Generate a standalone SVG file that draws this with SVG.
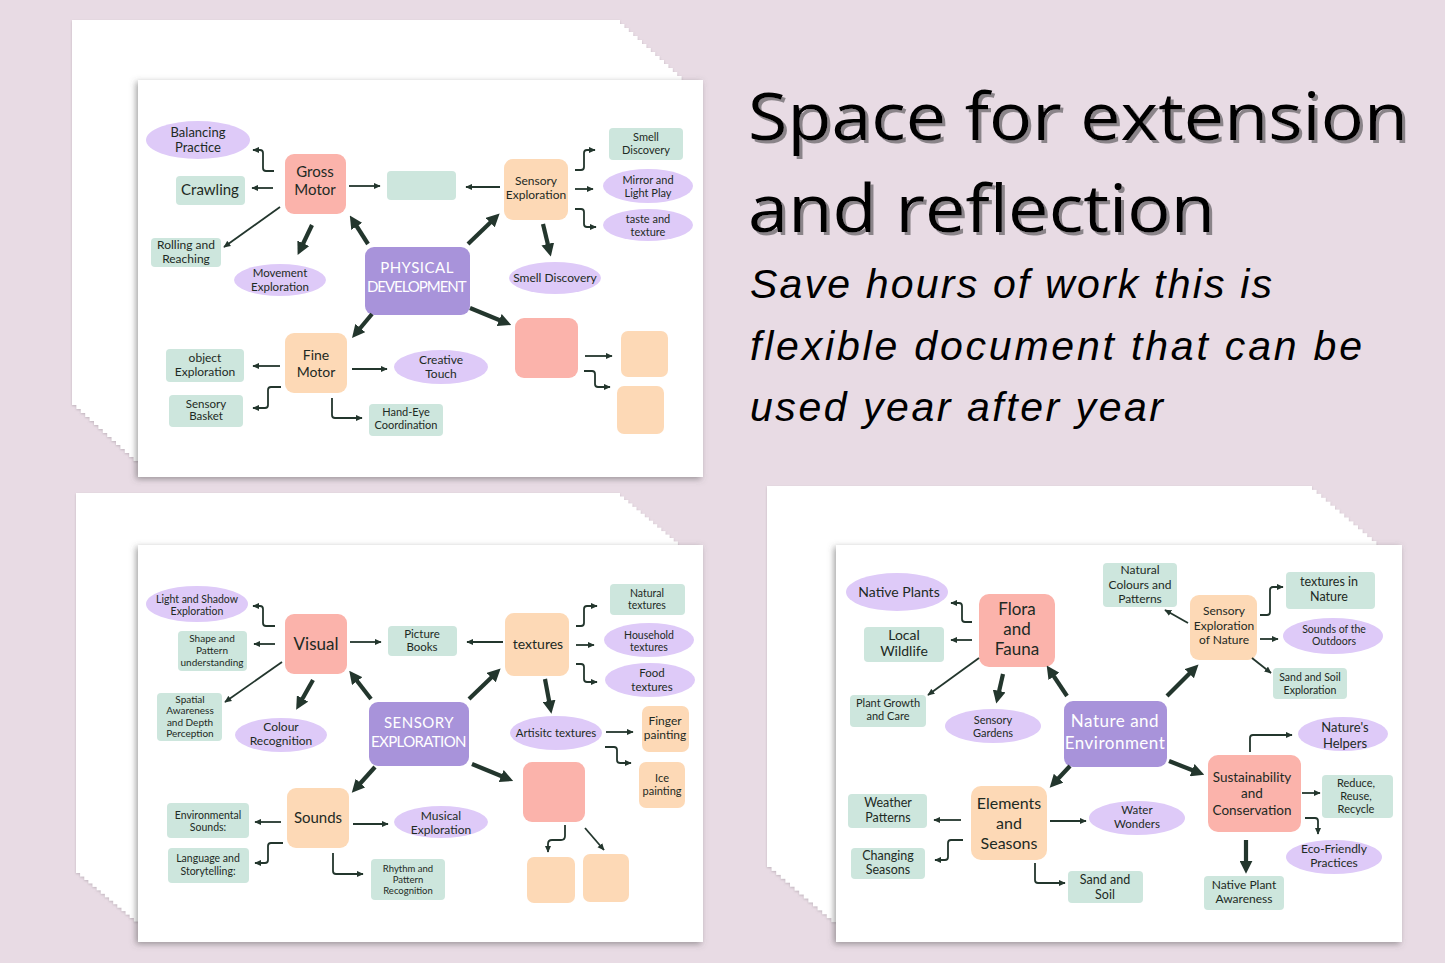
<svg xmlns="http://www.w3.org/2000/svg" width="1445" height="963" viewBox="0 0 1445 963">
<defs>
<style>
.sh{fill:#fff}
.stk{filter:url(#ss)}
.card{fill:#fff;filter:url(#cs)}
.pu{fill:#A893DA}
.sa{fill:#FBB3AB}
.pe{fill:#FDD9B6}
.mi{fill:#CDE6DD}
.la{fill:#DECAF8}
text{font-family:Lato,"Open Sans",sans-serif;fill:#1d2a24;text-anchor:middle}
.w{fill:#fff;letter-spacing:0.5px}
.t{fill:none;stroke:#23362D;stroke-width:1.8;marker-end:url(#a)}
.k{fill:none;stroke:#23362D;stroke-width:4.2;marker-end:url(#b)}
.h1{text-anchor:start;font-family:"Open Sans",Lato,sans-serif;font-weight:500;fill:#000;filter:url(#ts)}
.h2{text-anchor:start;font-family:"Liberation Sans",Arial,sans-serif;font-style:italic;font-weight:400;fill:#000}
</style>
<filter id="cs" x="-5%" y="-5%" width="110%" height="112%"><feDropShadow dx="-2" dy="2" stdDeviation="3" flood-color="#555" flood-opacity="0.55"/></filter>
<filter id="ss" x="-5%" y="-5%" width="110%" height="112%"><feDropShadow dx="0" dy="1" stdDeviation="1.2" flood-color="#9a8f97" flood-opacity="0.5"/></filter>
<filter id="ts" x="-2%" y="-10%" width="104%" height="130%"><feDropShadow dx="3" dy="3" stdDeviation="0.4" flood-color="#8a8489" flood-opacity="1"/></filter>
<marker id="a" viewBox="0 0 10 10" refX="9" refY="5" markerWidth="7" markerHeight="7" markerUnits="userSpaceOnUse" orient="auto"><path d="M0,0.5 L10,5 L0,9.5z" fill="#23362D"/></marker>
<marker id="b" viewBox="0 0 10 10" refX="4" refY="5" markerWidth="13" markerHeight="13" markerUnits="userSpaceOnUse" orient="auto"><path d="M0,0 L10,5 L0,10z" fill="#23362D"/></marker>
</defs>
<rect width="1445" height="963" fill="#E8DBE4"/>

<!-- title -->
<g id="title">
<text class="h1" x="748" y="140" font-size="66" textLength="660" lengthAdjust="spacingAndGlyphs">Space for extension</text>
<text class="h1" x="748" y="232" font-size="66" textLength="467" lengthAdjust="spacingAndGlyphs">and reflection</text>
<text class="h2" x="750" y="298" font-size="41" textLength="522">Save hours of work this is</text>
<text class="h2" x="750" y="360" font-size="41" textLength="612">flexible document that can be</text>
<text class="h2" x="750" y="421" font-size="41" textLength="413">used year after year</text>
</g>

<!-- stacks -->
<g id="stack1">
<g class="stk">
<rect class="sh" x="72" y="20" width="548" height="385"/>
<rect class="sh" x="76.4" y="24" width="548" height="385"/>
<rect class="sh" x="80.8" y="28" width="548" height="385"/>
<rect class="sh" x="85.2" y="32" width="548" height="385"/>
<rect class="sh" x="89.6" y="36" width="548" height="385"/>
<rect class="sh" x="94" y="40" width="548" height="385"/>
<rect class="sh" x="98.4" y="44" width="548" height="385"/>
<rect class="sh" x="102.8" y="48" width="548" height="385"/>
<rect class="sh" x="107.2" y="52" width="548" height="385"/>
<rect class="sh" x="111.6" y="56" width="548" height="385"/>
<rect class="sh" x="116" y="60" width="548" height="385"/>
<rect class="sh" x="120.4" y="64" width="548" height="385"/>
<rect class="sh" x="124.8" y="68" width="548" height="385"/>
<rect class="sh" x="129.2" y="72" width="548" height="385"/>
<rect class="sh" x="133.6" y="76" width="548" height="385"/>
</g>
<rect class="card" x="138" y="80" width="565" height="397"/>
</g>
<g id="stack2">
<g class="stk">
<rect class="sh" x="76" y="493" width="544" height="380"/>
<rect class="sh" x="80.1" y="496.5" width="544" height="380"/>
<rect class="sh" x="84.3" y="500" width="544" height="380"/>
<rect class="sh" x="88.4" y="503.4" width="544" height="380"/>
<rect class="sh" x="92.5" y="506.9" width="544" height="380"/>
<rect class="sh" x="96.7" y="510.3" width="544" height="380"/>
<rect class="sh" x="100.8" y="513.8" width="544" height="380"/>
<rect class="sh" x="104.9" y="517.3" width="544" height="380"/>
<rect class="sh" x="109.1" y="520.7" width="544" height="380"/>
<rect class="sh" x="113.2" y="524.2" width="544" height="380"/>
<rect class="sh" x="117.3" y="527.7" width="544" height="380"/>
<rect class="sh" x="121.5" y="531.1" width="544" height="380"/>
<rect class="sh" x="125.6" y="534.6" width="544" height="380"/>
<rect class="sh" x="129.7" y="538" width="544" height="380"/>
<rect class="sh" x="133.9" y="541.5" width="544" height="380"/>
</g>
<rect class="card" x="138" y="545" width="565" height="397"/>
</g>
<g id="stack3">
<g class="stk">
<rect class="sh" x="767" y="486" width="545" height="381"/>
<rect class="sh" x="771.6" y="489.9" width="545" height="381"/>
<rect class="sh" x="776.2" y="493.9" width="545" height="381"/>
<rect class="sh" x="780.8" y="497.8" width="545" height="381"/>
<rect class="sh" x="785.4" y="501.7" width="545" height="381"/>
<rect class="sh" x="790" y="505.7" width="545" height="381"/>
<rect class="sh" x="794.6" y="509.6" width="545" height="381"/>
<rect class="sh" x="799.2" y="513.5" width="545" height="381"/>
<rect class="sh" x="803.8" y="517.5" width="545" height="381"/>
<rect class="sh" x="808.4" y="521.4" width="545" height="381"/>
<rect class="sh" x="813" y="525.3" width="545" height="381"/>
<rect class="sh" x="817.6" y="529.3" width="545" height="381"/>
<rect class="sh" x="822.2" y="533.2" width="545" height="381"/>
<rect class="sh" x="826.8" y="537.1" width="545" height="381"/>
<rect class="sh" x="831.4" y="541.1" width="545" height="381"/>
</g>
<rect class="card" x="836" y="545" width="566" height="397"/>
</g>

<!-- ===== Card 1 ===== -->
<g id="c1-balancing"><ellipse class="la" cx="198" cy="140" rx="52" ry="19"/><text font-size="13"><tspan x="198" y="137">Balancing</tspan><tspan x="198" y="152">Practice</tspan></text></g>
<g id="c1-crawling"><rect class="mi" x="176" y="176" width="69" height="29" rx="4"/><text x="210" y="195" font-size="15">Crawling</text></g>
<g id="c1-gross"><rect class="sa" x="285" y="154" width="61" height="60" rx="9"/><text font-size="15"><tspan x="315" y="177">Gross</tspan><tspan x="315" y="195">Motor</tspan></text></g>
<g id="c1-rolling"><rect class="mi" x="151" y="238" width="70" height="29" rx="4"/><text font-size="12"><tspan x="186" y="249">Rolling and</tspan><tspan x="186" y="263">Reaching</tspan></text></g>
<g id="c1-movement"><ellipse class="la" cx="280" cy="280" rx="46" ry="16"/><text font-size="11.5"><tspan x="280" y="277">Movement</tspan><tspan x="280" y="291">Exploration</tspan></text></g>
<g id="c1-physical"><rect class="pu" x="365" y="247" width="105" height="68" rx="9"/><text class="w" font-size="15"><tspan x="417" y="273">PHYSICAL</tspan><tspan x="417" y="292" textLength="100">DEVELOPMENT</tspan></text></g>
<g id="c1-fine"><rect class="pe" x="285" y="333" width="62" height="60" rx="9"/><text font-size="14"><tspan x="316" y="360">Fine</tspan><tspan x="316" y="377">Motor</tspan></text></g>
<g id="c1-object"><rect class="mi" x="166" y="349" width="78" height="33" rx="4"/><text font-size="12"><tspan x="205" y="362">object</tspan><tspan x="205" y="376">Exploration</tspan></text></g>
<g id="c1-basket"><rect class="mi" x="169" y="395" width="74" height="32" rx="4"/><text font-size="11.5"><tspan x="206" y="408">Sensory</tspan><tspan x="206" y="420">Basket</tspan></text></g>
<g id="c1-handeye"><rect class="mi" x="369" y="404" width="74" height="32" rx="4"/><text font-size="11"><tspan x="406" y="416">Hand-Eye</tspan><tspan x="406" y="429">Coordination</tspan></text></g>
<g id="c1-creative"><ellipse class="la" cx="441" cy="367" rx="47" ry="17"/><text font-size="12"><tspan x="441" y="364">Creative</tspan><tspan x="441" y="378">Touch</tspan></text></g>
<g id="c1-blank-mint"><rect class="mi" x="387" y="171" width="69" height="29" rx="4"/></g>
<g id="c1-sensory"><rect class="pe" x="504" y="159" width="64" height="61" rx="9"/><text font-size="12"><tspan x="536" y="185">Sensory</tspan><tspan x="536" y="199">Exploration</tspan></text></g>
<g id="c1-smell-rect"><rect class="mi" x="609" y="128" width="74" height="32" rx="4"/><text font-size="11"><tspan x="646" y="141">Smell</tspan><tspan x="646" y="154">Discovery</tspan></text></g>
<g id="c1-mirror"><ellipse class="la" cx="648" cy="186" rx="45" ry="17"/><text font-size="11"><tspan x="648" y="184">Mirror and</tspan><tspan x="648" y="197">Light Play</tspan></text></g>
<g id="c1-taste"><ellipse class="la" cx="648" cy="225" rx="45" ry="16"/><text font-size="11"><tspan x="648" y="223">taste and</tspan><tspan x="648" y="236">texture</tspan></text></g>
<g id="c1-smell-ell"><ellipse class="la" cx="555" cy="278" rx="46" ry="16"/><text x="555" y="282" font-size="12">Smell Discovery</text></g>
<g id="c1-blank-salmon"><rect class="sa" x="515" y="318" width="63" height="60" rx="9"/></g>
<g id="c1-blank-peach1"><rect class="pe" x="621" y="331" width="47" height="46" rx="7"/></g>
<g id="c1-blank-peach2"><rect class="pe" x="617" y="386" width="47" height="48" rx="7"/></g>

<!-- ===== Card 2 ===== -->
<g id="c2-light"><ellipse class="la" cx="197" cy="604" rx="51" ry="18"/><text font-size="10.5"><tspan x="197" y="603">Light and Shadow</tspan><tspan x="197" y="615">Exploration</tspan></text></g>
<g id="c2-shape"><rect class="mi" x="178" y="631" width="69" height="40" rx="4"/><text font-size="10"><tspan x="212" y="642">Shape and</tspan><tspan x="212" y="654">Pattern</tspan><tspan x="212" y="666">understanding</tspan></text></g>
<g id="c2-visual"><rect class="sa" x="285" y="614" width="62" height="60" rx="9"/><text x="316" y="650" font-size="17">Visual</text></g>
<g id="c2-picture"><rect class="mi" x="388" y="626" width="69" height="30" rx="4"/><text font-size="11.5"><tspan x="422" y="638">Picture</tspan><tspan x="422" y="651">Books</tspan></text></g>
<g id="c2-spatial"><rect class="mi" x="157" y="693" width="65" height="48" rx="4"/><text font-size="10"><tspan x="190" y="703">Spatial</tspan><tspan x="190" y="714">Awareness</tspan><tspan x="190" y="726">and Depth</tspan><tspan x="190" y="737">Perception</tspan></text></g>
<g id="c2-colour"><ellipse class="la" cx="281" cy="735" rx="46" ry="17"/><text font-size="12"><tspan x="281" y="731">Colour</tspan><tspan x="281" y="745">Recognition</tspan></text></g>
<g id="c2-sensory"><rect class="pu" x="369" y="702" width="100" height="64" rx="9"/><text class="w" font-size="15"><tspan x="419" y="728">SENSORY</tspan><tspan x="419" y="747" textLength="96">EXPLORATION</tspan></text></g>
<g id="c2-sounds"><rect class="pe" x="287" y="788" width="62" height="60" rx="9"/><text x="318" y="823" font-size="15">Sounds</text></g>
<g id="c2-env"><rect class="mi" x="167" y="803" width="82" height="35" rx="4"/><text font-size="10.5"><tspan x="208" y="819">Environmental</tspan><tspan x="208" y="831">Sounds:</tspan></text></g>
<g id="c2-lang"><rect class="mi" x="168" y="848" width="81" height="35" rx="4"/><text font-size="10.5"><tspan x="208" y="862">Language and</tspan><tspan x="208" y="875">Storytelling:</tspan></text></g>
<g id="c2-musical"><ellipse class="la" cx="441" cy="822" rx="47" ry="16"/><text font-size="12"><tspan x="441" y="820">Musical</tspan><tspan x="441" y="834">Exploration</tspan></text></g>
<g id="c2-rhythm"><rect class="mi" x="371" y="859" width="74" height="41" rx="4"/><text font-size="9.5"><tspan x="408" y="872">Rhythm and</tspan><tspan x="408" y="883">Pattern</tspan><tspan x="408" y="894">Recognition</tspan></text></g>
<g id="c2-textures"><rect class="pe" x="505" y="613" width="64" height="63" rx="9"/><text x="538" y="649" font-size="14">textures</text></g>
<g id="c2-natural"><rect class="mi" x="610" y="584" width="75" height="31" rx="4"/><text font-size="10.5"><tspan x="647" y="597">Natural</tspan><tspan x="647" y="609">textures</tspan></text></g>
<g id="c2-household"><ellipse class="la" cx="649" cy="640" rx="45" ry="17"/><text font-size="10.5"><tspan x="649" y="639">Household</tspan><tspan x="649" y="651">textures</tspan></text></g>
<g id="c2-food"><ellipse class="la" cx="650" cy="680" rx="45" ry="17"/><text font-size="11.5"><tspan x="652" y="677">Food</tspan><tspan x="652" y="691">textures</tspan></text></g>
<g id="c2-artisitc"><ellipse class="la" cx="556" cy="733" rx="46" ry="17"/><text x="556" y="737" font-size="11.5">Artisitc textures</text></g>
<g id="c2-finger"><rect class="pe" x="642" y="706" width="47" height="46" rx="7"/><text font-size="12"><tspan x="665" y="725">Finger</tspan><tspan x="665" y="739">painting</tspan></text></g>
<g id="c2-ice"><rect class="pe" x="639" y="762" width="46" height="46" rx="7"/><text font-size="11"><tspan x="662" y="782">Ice</tspan><tspan x="662" y="795">painting</tspan></text></g>
<g id="c2-blank-salmon"><rect class="sa" x="523" y="762" width="62" height="60" rx="9"/></g>
<g id="c2-blank-peach1"><rect class="pe" x="527" y="857" width="48" height="46" rx="7"/></g>
<g id="c2-blank-peach2"><rect class="pe" x="583" y="854" width="46" height="48" rx="7"/></g>

<!-- ===== Card 3 ===== -->
<g id="c3-native"><ellipse class="la" cx="897" cy="592" rx="51" ry="19"/><text x="899" y="597" font-size="14">Native Plants</text></g>
<g id="c3-local"><rect class="mi" x="864" y="627" width="80" height="35" rx="4"/><text font-size="14"><tspan x="904" y="640">Local</tspan><tspan x="904" y="656">Wildlife</tspan></text></g>
<g id="c3-flora"><rect class="sa" x="979" y="594" width="76" height="73" rx="10"/><text font-size="17"><tspan x="1017" y="615">Flora</tspan><tspan x="1017" y="635">and</tspan><tspan x="1017" y="655">Fauna</tspan></text></g>
<g id="c3-plant"><rect class="mi" x="850" y="695" width="76" height="32" rx="4"/><text font-size="11"><tspan x="888" y="707">Plant Growth</tspan><tspan x="888" y="720">and Care</tspan></text></g>
<g id="c3-gardens"><ellipse class="la" cx="993" cy="726" rx="48" ry="17"/><text font-size="11"><tspan x="993" y="724">Sensory</tspan><tspan x="993" y="737">Gardens</tspan></text></g>
<g id="c3-nature"><rect class="pu" x="1064" y="701" width="103" height="66" rx="9"/><text class="w" font-size="17" letter-spacing="0"><tspan x="1115" y="727">Nature and</tspan><tspan x="1115" y="749">Environment</tspan></text></g>
<g id="c3-elements"><rect class="pe" x="971" y="786" width="76" height="74" rx="10"/><text font-size="16"><tspan x="1009" y="809">Elements</tspan><tspan x="1009" y="829">and</tspan><tspan x="1009" y="849">Seasons</tspan></text></g>
<g id="c3-weather"><rect class="mi" x="848" y="794" width="79" height="34" rx="4"/><text font-size="12.5"><tspan x="888" y="807">Weather</tspan><tspan x="888" y="822">Patterns</tspan></text></g>
<g id="c3-changing"><rect class="mi" x="851" y="848" width="74" height="31" rx="4"/><text font-size="12.5"><tspan x="888" y="860">Changing</tspan><tspan x="888" y="874">Seasons</tspan></text></g>
<g id="c3-water"><ellipse class="la" cx="1137" cy="818" rx="48" ry="17"/><text font-size="11.5"><tspan x="1137" y="814">Water</tspan><tspan x="1137" y="828">Wonders</tspan></text></g>
<g id="c3-sand"><rect class="mi" x="1068" y="871" width="75" height="32" rx="4"/><text font-size="12.5"><tspan x="1105" y="884">Sand and</tspan><tspan x="1105" y="899">Soil</tspan></text></g>
<g id="c3-colours"><rect class="mi" x="1103" y="563" width="74" height="44" rx="4"/><text font-size="12"><tspan x="1140" y="574">Natural</tspan><tspan x="1140" y="589">Colours and</tspan><tspan x="1140" y="603">Patterns</tspan></text></g>
<g id="c3-sensnat"><rect class="pe" x="1190" y="595" width="67" height="65" rx="9"/><text font-size="12"><tspan x="1224" y="615">Sensory</tspan><tspan x="1224" y="630">Exploration</tspan><tspan x="1224" y="644">of Nature</tspan></text></g>
<g id="c3-texnat"><rect class="mi" x="1286" y="572" width="89" height="37" rx="4"/><text font-size="12.5"><tspan x="1329" y="586">textures in</tspan><tspan x="1329" y="601">Nature</tspan></text></g>
<g id="c3-outdoors"><ellipse class="la" cx="1333" cy="636" rx="50" ry="18"/><text font-size="10.5"><tspan x="1334" y="633">Sounds of the</tspan><tspan x="1334" y="645">Outdoors</tspan></text></g>
<g id="c3-sandexp"><rect class="mi" x="1273" y="668" width="74" height="31" rx="4"/><text font-size="10.5"><tspan x="1310" y="681">Sand and Soil</tspan><tspan x="1310" y="694">Exploration</tspan></text></g>
<g id="c3-helpers"><ellipse class="la" cx="1343" cy="734" rx="45" ry="17"/><text font-size="13"><tspan x="1345" y="732">Nature's</tspan><tspan x="1345" y="748">Helpers</tspan></text></g>
<g id="c3-sustain"><rect class="sa" x="1208" y="755" width="93" height="77" rx="10"/><text font-size="13.5"><tspan x="1252" y="782">Sustainability</tspan><tspan x="1252" y="798">and</tspan><tspan x="1252" y="815">Conservation</tspan></text></g>
<g id="c3-reduce"><rect class="mi" x="1322" y="775" width="71" height="43" rx="4"/><text font-size="11"><tspan x="1356" y="787">Reduce,</tspan><tspan x="1356" y="800">Reuse,</tspan><tspan x="1356" y="813">Recycle</tspan></text></g>
<g id="c3-eco"><ellipse class="la" cx="1334" cy="857" rx="48" ry="17"/><text font-size="12"><tspan x="1334" y="853">Eco-Friendly</tspan><tspan x="1334" y="867">Practices</tspan></text></g>
<g id="c3-npa"><rect class="mi" x="1204" y="876" width="80" height="34" rx="4"/><text font-size="12"><tspan x="1244" y="889">Native Plant</tspan><tspan x="1244" y="903">Awareness</tspan></text></g>

<!-- connectors -->
<g id="connectors">
<path class="t" d="M274,171 H266 Q263,171 263,168 V153 Q263,150 260,150 H253"/>
<path class="t" d="M273,188 H252"/>
<path class="t" d="M280,207 L224,247"/>
<path class="k" d="M312,225 L301,248"/>
<path class="k" d="M368,244 L354,222"/>
<path class="t" d="M349,186 H380"/>
<path class="t" d="M500,187 H466"/>
<path class="k" d="M468,244 L494,219"/>
<path class="k" d="M543,224 L549,249"/>
<path class="t" d="M575,170 H581 Q584,170 584,167 V153 Q584,150 587,150 H595"/>
<path class="t" d="M575,189 H593"/>
<path class="t" d="M575,209 H581 Q584,209 584,212 V224 Q584,227 587,227 H596"/>
<path class="k" d="M470,308 L504,322"/>
<path class="k" d="M372,314 L357,332"/>
<path class="t" d="M585,356 H612"/>
<path class="t" d="M584,371 H592 Q595,371 595,374 V384 Q595,387 598,387 H610"/>
<path class="t" d="M280,366 H253"/>
<path class="t" d="M281,387 H271 Q268,387 268,390 V405 Q268,408 265,408 H253"/>
<path class="t" d="M352,369 H387"/>
<path class="t" d="M332,398 V415 Q332,418 335,418 H362"/>

<path class="t" d="M275,626 H266 Q263,626 263,623 V609 Q263,606 260,606 H253"/>
<path class="t" d="M275,644 H254"/>
<path class="t" d="M282,662 L225,702"/>
<path class="k" d="M313,680 L300,703"/>
<path class="k" d="M371,699 L354,677"/>
<path class="t" d="M350,642 H381"/>
<path class="t" d="M503,642 H467"/>
<path class="k" d="M469,699 L495,674"/>
<path class="t" d="M576,626 H581 Q584,626 584,623 V609 Q584,606 587,606 H597"/>
<path class="t" d="M576,645 H594"/>
<path class="t" d="M576,664 H581 Q584,664 584,667 V679 Q584,682 587,682 H597"/>
<path class="k" d="M545,679 L550,706"/>
<path class="t" d="M606,732 H633"/>
<path class="t" d="M605,747 H614 Q617,747 617,750 V760 Q617,763 620,763 H631"/>
<path class="k" d="M472,764 L506,778"/>
<path class="k" d="M375,767 L357,787"/>
<path class="t" d="M565,825 V836 Q565,840 561,840 H552 Q548,840 548,844 V852"/>
<path class="t" d="M585,828 L604,850"/>
<path class="t" d="M281,822 H255"/>
<path class="t" d="M283,843 H271 Q268,843 268,846 V860 Q268,863 265,863 H255"/>
<path class="t" d="M353,824 H388"/>
<path class="t" d="M333,853 V871 Q333,874 336,874 H363"/>

<path class="t" d="M972,622 H965 Q962,622 962,619 V606 Q962,603 959,603 H951"/>
<path class="t" d="M972,640 H951"/>
<path class="t" d="M979,658 L928,695"/>
<path class="k" d="M1003,674 L998,696"/>
<path class="k" d="M1067,696 L1051,672"/>
<path class="k" d="M1070,766 L1055,782"/>
<path class="t" d="M961,820 H934"/>
<path class="t" d="M963,840 H951 Q948,840 948,843 V857 Q948,860 945,860 H935"/>
<path class="t" d="M1050,821 H1086"/>
<path class="t" d="M1035,863 V880 Q1035,883 1038,883 H1065"/>
<path class="k" d="M1167,696 L1193,670"/>
<path class="t" d="M1188,623 L1165,610"/>
<path class="t" d="M1260,615 H1267 Q1270,615 1270,612 V590 Q1270,587 1273,587 H1283"/>
<path class="t" d="M1260,639 H1278"/>
<path class="t" d="M1252,658 L1271,673"/>
<path class="k" d="M1169,761 L1197,772"/>
<path class="t" d="M1250,752 V738 Q1250,735 1253,735 H1292"/>
<path class="t" d="M1302,793 H1320"/>
<path class="t" d="M1305,818 H1315 Q1318,818 1318,821 V834"/>
<path class="k" d="M1246,840 L1246,866"/>
</g>
</svg>
